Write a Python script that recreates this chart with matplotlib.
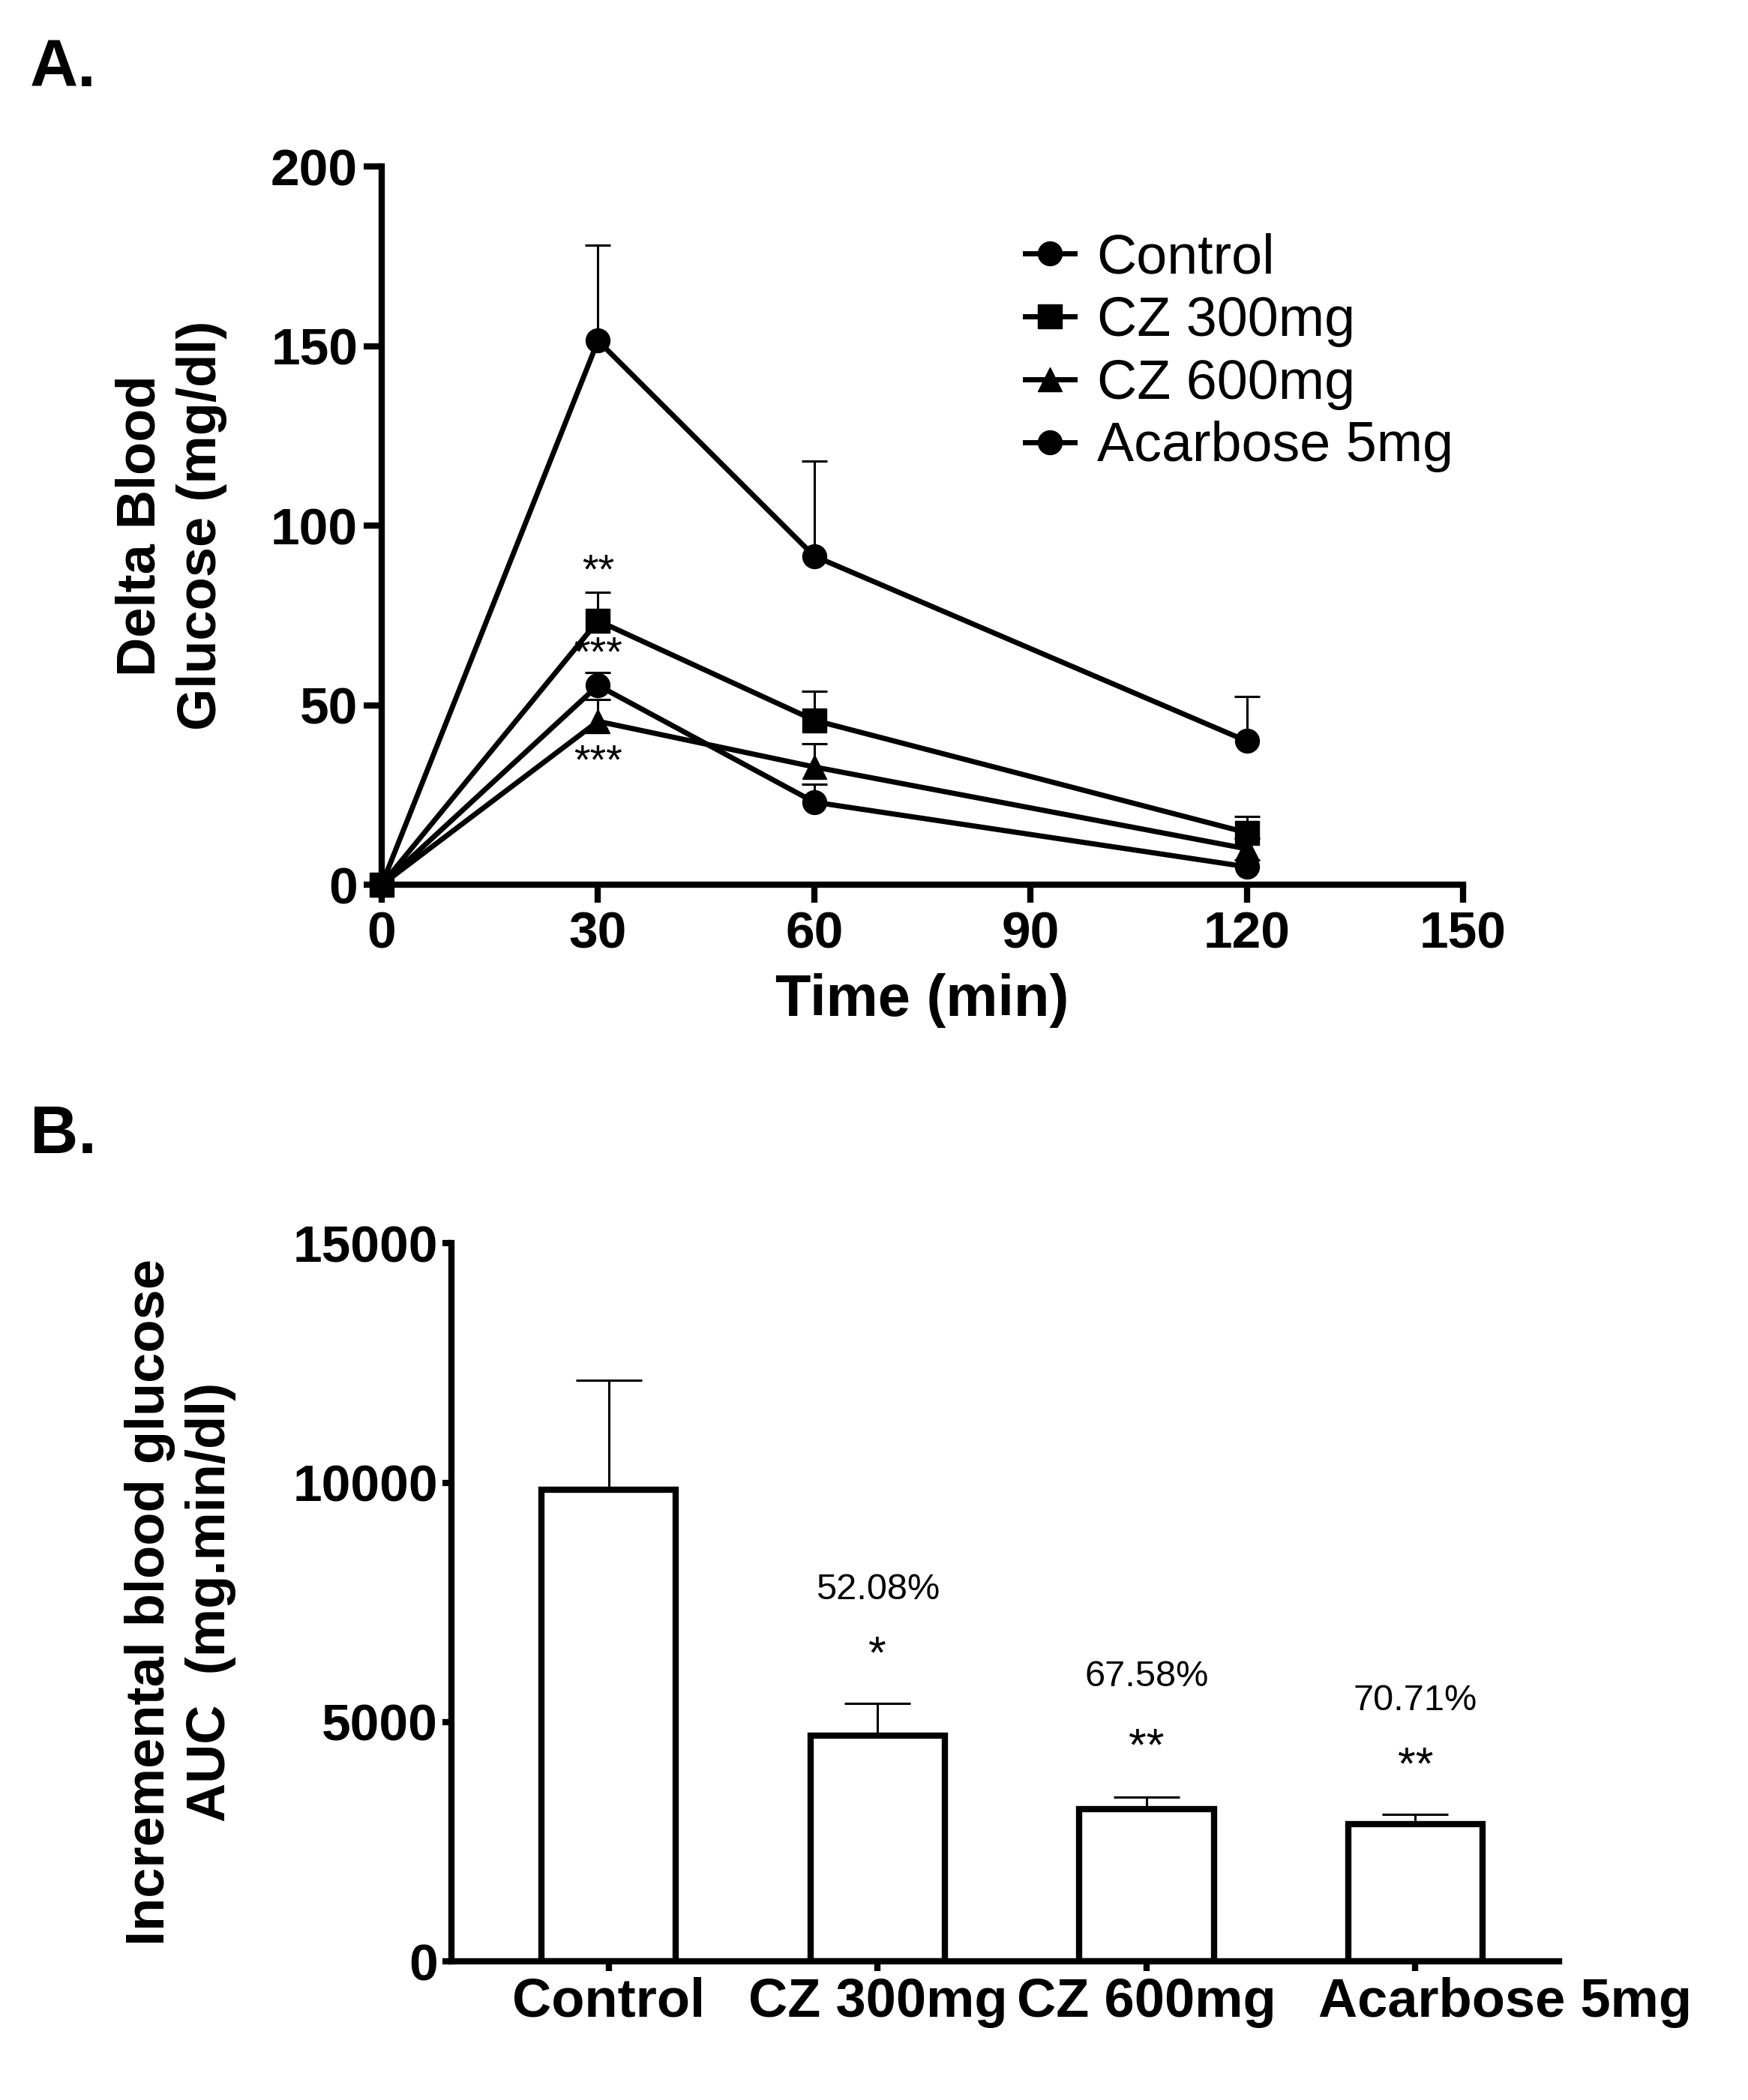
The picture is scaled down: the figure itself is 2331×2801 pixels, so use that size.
import numpy as np
import matplotlib
matplotlib.use("Agg")
import matplotlib.pyplot as plt
import matplotlib.transforms as mtransforms
from matplotlib import rcParams
rcParams['font.family'] = ['Liberation Sans', 'DejaVu Sans']

# panel A data
time = [0, 30, 60, 120]
groups = ['Control', 'CZ 300mg', 'CZ 600mg', 'Acarbose 5mg']
markers = ['o', 's', '^', 'o']
mean_a = {
    'Control':      [0, 151.5, 91.5, 40.0],
    'CZ 300mg':     [0, 73.5, 45.8, 14.5],
    'CZ 600mg':     [0, 45.5, 32.8, 10.0],
    'Acarbose 5mg': [0, 55.5, 23.0, 5.0],
}
sem_a = {
    'Control':      [0, 26.5, 26.5, 12.5],
    'CZ 300mg':     [0, 8.0, 8.0, 4.5],
    'CZ 600mg':     [0, 6.0, 6.5, 3.0],
    'Acarbose 5mg': [0, 3.5, 5.0, 2.0],
}
stars_a = [(30, 87, '**'), (30, 64, '***'), (30, 34, '***')]

# panel B data
auc_mean = [9850, 4720, 3175, 2865]
auc_sem = [2290, 670, 250, 200]
pct = ['', '52.08%', '67.58%', '70.71%']
star_b = ['', '*', '**', '**']
pct_y = [0, 7760, 5950, 5440]
star_y = [0, 6380, 4450, 4060]

fig = plt.figure(figsize=(23.31, 28.01), dpi=100)

# ---------- A ----------
ax = fig.add_axes([0.2184, 0.5787, 0.6186, 0.342])
for g, m in zip(groups, markers):
    y = np.array(mean_a[g])
    e = np.array(sem_a[g])
    ax.vlines(time[1:], y[1:], (y + e)[1:], color='black', lw=2.2, zorder=2)
    ax.plot(time[1:], (y + e)[1:], ls='none', marker='_', markersize=25,
            markeredgewidth=2.2, color='black', zorder=2)
    ax.plot(time, y, color='black', lw=5, marker=m, markersize=23, label=g,
            clip_on=False, zorder=3)
for x, y, s in stars_a:
    ax.text(x, y, s, ha='center', va='center', fontsize=40)
ax.set_xlim(0, 150)
ax.set_ylim(0, 200)
ax.set_xticks([0, 30, 60, 90, 120, 150])
ax.set_yticks([0, 50, 100, 150, 200])
for s in ['top', 'right']:
    ax.spines[s].set_visible(False)
for s in ['left', 'bottom']:
    ax.spines[s].set_linewidth(6)
ax.tick_params(width=6, length=17, labelsize=50, pad=6)
ax.tick_params(axis='x', pad=8)
for lab in ax.get_xticklabels() + ax.get_yticklabels():
    lab.set_fontweight('bold')
ax.set_xlabel('Time (min)', fontsize=56, fontweight='bold', labelpad=14)
ax.set_ylabel('Delta Blood\nGlucose (mg/dl)', fontsize=52, fontweight='bold',
              labelpad=42, linespacing=1.25)
ax.legend(loc='upper left', bbox_to_anchor=(0.595, 0.908), frameon=False,
          fontsize=53, handlelength=0.9, handletextpad=0.4, labelspacing=0.2,
          borderaxespad=0, borderpad=0, markerscale=1.0)
fig.text(0.017, 0.967, 'A.', fontsize=64, fontweight='bold', va='center')

# ---------- B ----------
bx = fig.add_axes([0.2583, 0.066, 0.6337, 0.342])
pos = np.arange(len(groups))
bx.bar(pos, auc_mean, width=0.5, color='white', edgecolor='black', linewidth=6,
       zorder=2)
bx.errorbar(pos, auc_mean, yerr=[np.zeros(4), auc_sem], fmt='none',
            ecolor='black', elinewidth=2.2, capsize=32, capthick=2.2, zorder=1)
for i in pos:
    if pct[i]:
        bx.text(i, pct_y[i], pct[i], ha='center', va='center', fontsize=35)
        bx.text(i, star_y[i], star_b[i], ha='center', va='center', fontsize=44)
bx.set_xlim(-0.585, 3.535)
bx.set_ylim(0, 15000)
bx.set_yticks([0, 5000, 10000, 15000])
bx.set_xticks(pos)
bx.set_xticklabels(groups)
for s in ['top', 'right']:
    bx.spines[s].set_visible(False)
for s in ['left', 'bottom']:
    bx.spines[s].set_linewidth(6)
bx.tick_params(width=6, length=9, labelsize=50, pad=4)
bx.tick_params(axis='x', labelsize=52, pad=6)
for lab in bx.get_xticklabels() + bx.get_yticklabels():
    lab.set_fontweight('bold')
# GraphPad nudged the last category label right to avoid overlap
last = bx.get_xticklabels()[-1]
last.set_transform(last.get_transform() +
                   mtransforms.ScaledTranslation(1.2, 0, fig.dpi_scale_trans))
bx.set_ylabel('Incremental blood glucose\nAUC  (mg.min/dl)', fontsize=52,
              fontweight='bold', labelpad=54, linespacing=1.25)
fig.text(0.017, 0.459, 'B.', fontsize=64, fontweight='bold', va='center')

fig.savefig('out.png', dpi=100)
